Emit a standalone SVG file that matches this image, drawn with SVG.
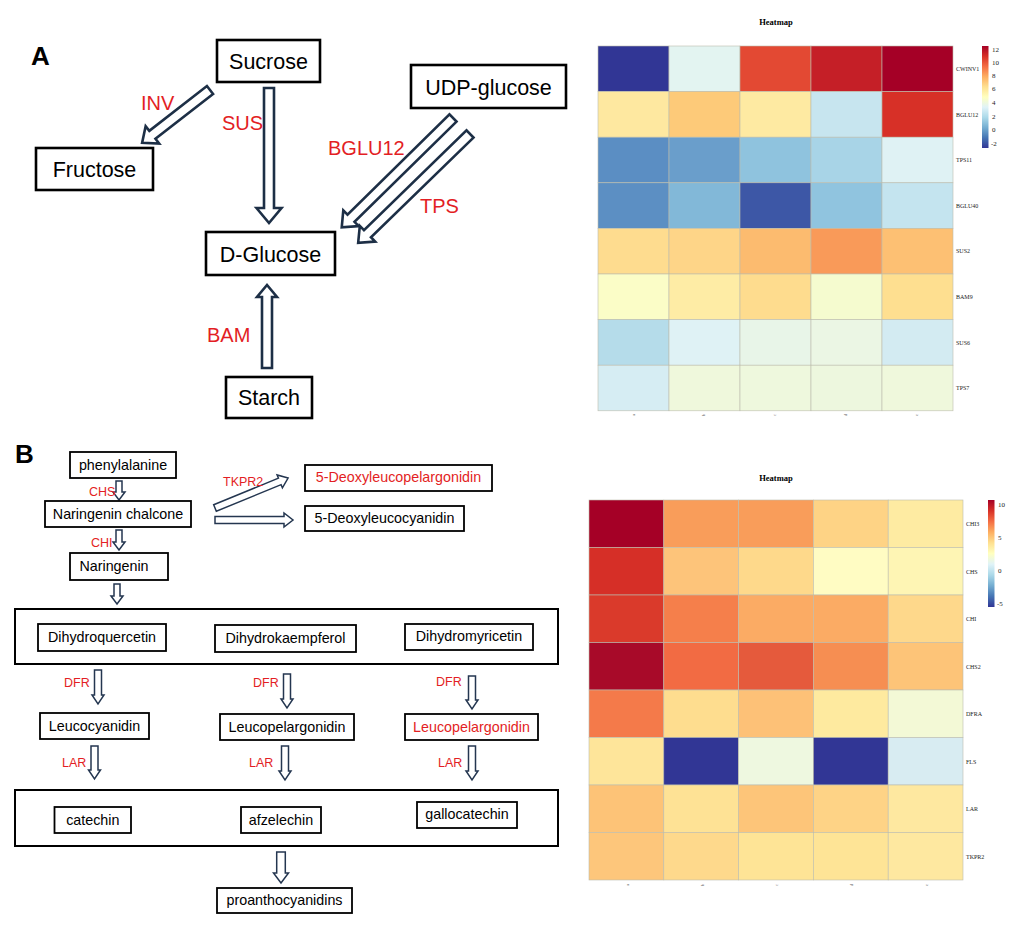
<svg xmlns="http://www.w3.org/2000/svg" width="1024" height="935" viewBox="0 0 1024 935">
<style>
.bg{fill:#ffffff}
.boxA{fill:#ffffff;stroke:#000;stroke-width:2.6}
.boxB{fill:#ffffff;stroke:#000;stroke-width:1.8}
.big{fill:none;stroke:#000;stroke-width:2}
.tA{font-family:"Liberation Sans",Arial,sans-serif;font-size:21.5px;fill:#000;text-anchor:middle}
.tB{font-family:"Liberation Sans",Arial,sans-serif;font-size:14.3px;fill:#000;text-anchor:middle}
.rA{font-family:"Liberation Sans",Arial,sans-serif;font-size:20px;fill:#e31e24}
.rB{font-family:"Liberation Sans",Arial,sans-serif;font-size:12.5px;fill:#e31e24}
.red{fill:#e31e24}
.lab{font-family:"Liberation Sans",Arial,sans-serif;font-size:26px;font-weight:bold;fill:#000}
.aA{fill:#fff;stroke:#1d2f46;stroke-width:2.6;stroke-linejoin:miter}
.aB{fill:#fff;stroke:#243650;stroke-width:1.5;stroke-linejoin:miter}
.hm rect{stroke:#bdbdad;stroke-width:0.6}
.ttl{font-family:"Liberation Serif","Times New Roman",serif;font-size:8.5px;font-weight:bold;fill:#000;text-anchor:middle}
.rl{font-family:"Liberation Serif","Times New Roman",serif;font-size:6px;fill:#222}
.tk{font-family:"Liberation Serif","Times New Roman",serif;font-size:7px;fill:#222}
.cl{font-family:"Liberation Serif","Times New Roman",serif;font-size:4.5px;fill:#666;text-anchor:middle}
</style>
<defs>
<linearGradient id="rdylbu" x1="0" y1="0" x2="0" y2="1">
<stop offset="0" stop-color="#a50026"/>
<stop offset="0.1" stop-color="#d73027"/>
<stop offset="0.2" stop-color="#f46d43"/>
<stop offset="0.3" stop-color="#fdae61"/>
<stop offset="0.4" stop-color="#fee090"/>
<stop offset="0.5" stop-color="#ffffbf"/>
<stop offset="0.6" stop-color="#e0f3f8"/>
<stop offset="0.7" stop-color="#abd9e9"/>
<stop offset="0.8" stop-color="#74add1"/>
<stop offset="0.9" stop-color="#4575b4"/>
<stop offset="1" stop-color="#313695"/>
</linearGradient>
</defs>
<rect class="bg" x="0" y="0" width="1024" height="935"/>

<!-- Panel labels -->
<text class="lab" x="31" y="65">A</text>
<text class="lab" x="15" y="463">B</text>

<!-- Part A connectors -->
<g id="connectors-A">
<path class="aA" transform="translate(210,90) rotate(142.1)" d="M0,-5H73V-11L86,0L73,11V5H0Z"/>
<path class="aA" transform="translate(269,88) rotate(90)" d="M0,-5H120V-12.5L135,0L120,12.5V5H0Z"/>
<path class="aA" transform="translate(453,118) rotate(135.5)" d="M0,-5H143V-11L156,0L143,11V5H0Z"/>
<path class="aA" transform="translate(470,134) rotate(135.8)" d="M0,-5H143V-11L156,0L143,11V5H0Z"/>
<path class="aA" transform="translate(267,368) rotate(-90)" d="M0,-5H71V-10L83,0L71,10V5H0Z"/>
<text class="rA" x="141" y="110">INV</text>
<text class="rA" x="222" y="130">SUS</text>
<text class="rA" x="328" y="155">BGLU12</text>
<text class="rA" x="420" y="213">TPS</text>
<text class="rA" x="207" y="342">BAM</text>
</g>

<!-- Part A nodes -->
<g id="sucrose"><rect class="boxA" x="217" y="40" width="103" height="42"/><text class="tA" x="268.5" y="69">Sucrose</text></g>
<g id="fructose"><rect class="boxA" x="36" y="148" width="117" height="42"/><text class="tA" x="94.5" y="177">Fructose</text></g>
<g id="udp-glucose"><rect class="boxA" x="411" y="65" width="155" height="43"/><text class="tA" x="488.5" y="95">UDP-glucose</text></g>
<g id="d-glucose"><rect class="boxA" x="206" y="232" width="129" height="43"/><text class="tA" x="270.5" y="262">D-Glucose</text></g>
<g id="starch"><rect class="boxA" x="226" y="377" width="86" height="41"/><text class="tA" x="269" y="405">Starch</text></g>

<!-- Part B connectors -->
<g id="connectors-B">
<path class="aB" transform="translate(119,481) rotate(90)" d="M0,-3H11V-6L19,0L11,6V3H0Z"/>
<path class="aB" transform="translate(119,530) rotate(90)" d="M0,-3H12V-6L20,0L12,6V3H0Z"/>
<path class="aB" transform="translate(117,584) rotate(90)" d="M0,-3H12V-6L20,0L12,6V3H0Z"/>
<path class="aB" transform="translate(215,508) rotate(-22.3)" d="M0,-3.5H70V-7L79,0L70,7V3.5H0Z"/>
<path class="aB" transform="translate(215,520)" d="M0,-3.5H69V-7L78,0L69,7V3.5H0Z"/>
<path class="aB" transform="translate(98,670) rotate(90)" d="M0,-3.5H25V-6L34,0L25,6V3.5H0Z"/>
<path class="aB" transform="translate(287,674) rotate(90)" d="M0,-3.5H25V-6L34,0L25,6V3.5H0Z"/>
<path class="aB" transform="translate(472,676) rotate(90)" d="M0,-3.5H24V-6L33,0L24,6V3.5H0Z"/>
<path class="aB" transform="translate(94.5,746) rotate(90)" d="M0,-3.5H24V-6L33,0L24,6V3.5H0Z"/>
<path class="aB" transform="translate(285,746) rotate(90)" d="M0,-3.5H25V-6L34,0L25,6V3.5H0Z"/>
<path class="aB" transform="translate(472,746) rotate(90)" d="M0,-3.5H25V-6L34,0L25,6V3.5H0Z"/>
<path class="aB" transform="translate(281,852) rotate(90)" d="M0,-4.3H21V-7.5L31,0L21,7.5V4.3H0Z"/>
<text class="rB" x="89" y="496">CHS</text>
<text class="rB" x="91" y="547">CHI</text>
<text class="rB" x="223" y="486">TKPR2</text>
<text class="rB" x="64" y="687">DFR</text>
<text class="rB" x="253" y="687">DFR</text>
<text class="rB" x="436" y="686">DFR</text>
<text class="rB" x="62" y="767">LAR</text>
<text class="rB" x="249" y="767">LAR</text>
<text class="rB" x="438" y="767">LAR</text>
</g>

<!-- Part B nodes -->
<g id="phenylalanine"><rect class="boxB" x="70" y="452" width="106" height="26"/><text class="tB" x="123" y="470">phenylalanine</text></g>
<g id="naringenin-chalcone"><rect class="boxB" x="45" y="501" width="146" height="26"/><text class="tB" x="118" y="519">Naringenin chalcone</text></g>
<g id="naringenin"><rect class="boxB" x="70" y="553" width="98" height="27"/><text class="tB" x="114" y="571">Naringenin</text></g>
<g id="deoxyleucopelargonidin"><rect class="boxB" x="305" y="465" width="187" height="26"/><text class="tB red" x="398.5" y="482">5-Deoxyleucopelargonidin</text></g>
<g id="deoxyleucocyanidin"><rect class="boxB" x="305" y="506" width="159" height="25"/><text class="tB" x="384.5" y="523">5-Deoxyleucocyanidin</text></g>

<g id="dihydroflavonols">
<rect class="big" x="15" y="609" width="543" height="55"/>
<g id="dihydroquercetin"><rect class="boxB" x="38" y="624" width="128" height="27"/><text class="tB" x="102" y="642">Dihydroquercetin</text></g>
<g id="dihydrokaempferol"><rect class="boxB" x="215" y="625" width="141" height="27"/><text class="tB" x="285.5" y="643">Dihydrokaempferol</text></g>
<g id="dihydromyricetin"><rect class="boxB" x="405" y="624" width="128" height="26"/><text class="tB" x="469" y="641">Dihydromyricetin</text></g>
</g>

<g id="leucocyanidin"><rect class="boxB" x="40" y="713" width="109" height="26"/><text class="tB" x="94.5" y="731">Leucocyanidin</text></g>
<g id="leucopelargonidin-1"><rect class="boxB" x="220" y="714" width="134" height="26"/><text class="tB" x="287" y="732">Leucopelargonidin</text></g>
<g id="leucopelargonidin-2"><rect class="boxB" x="405" y="714" width="133" height="26"/><text class="tB red" x="471.5" y="732">Leucopelargonidin</text></g>

<g id="flavan-3-ols">
<rect class="big" x="15" y="790" width="543" height="56"/>
<g id="catechin"><rect class="boxB" x="54.5" y="807" width="76.5" height="26"/><text class="tB" x="92.8" y="825">catechin</text></g>
<g id="afzelechin"><rect class="boxB" x="241" y="807" width="80" height="26"/><text class="tB" x="281" y="825">afzelechin</text></g>
<g id="gallocatechin"><rect class="boxB" x="417" y="802" width="100" height="26"/><text class="tB" x="467" y="819">gallocatechin</text></g>
</g>
<g id="proanthocyanidins"><rect class="boxB" x="217" y="888" width="135" height="25"/><text class="tB" x="284.5" y="905">proanthocyanidins</text></g>

<!-- Heatmap A -->
<g id="heatmap-A">
<text class="ttl" x="776" y="25">Heatmap</text>
<g class="hm">
<rect x="598" y="46" width="71" height="45.6" fill="#313695"/><rect x="669" y="46" width="71" height="45.6" fill="#e3f4f1"/><rect x="740" y="46" width="71" height="45.6" fill="#e34933"/><rect x="811" y="46" width="71" height="45.6" fill="#c51f27"/><rect x="882" y="46" width="71" height="45.6" fill="#a50026"/>
<rect x="598" y="91.6" width="71" height="45.6" fill="#fee8a0"/><rect x="669" y="91.6" width="71" height="45.6" fill="#fdca79"/><rect x="740" y="91.6" width="71" height="45.6" fill="#feeaa2"/><rect x="811" y="91.6" width="71" height="45.6" fill="#c7e5ef"/><rect x="882" y="91.6" width="71" height="45.6" fill="#d73027"/>
<rect x="598" y="137.2" width="71" height="45.6" fill="#5b8ec3"/><rect x="669" y="137.2" width="71" height="45.6" fill="#6a9ecb"/><rect x="740" y="137.2" width="71" height="45.6" fill="#8fc3de"/><rect x="811" y="137.2" width="71" height="45.6" fill="#a8d4e7"/><rect x="882" y="137.2" width="71" height="45.6" fill="#dff2f4"/>
<rect x="598" y="182.8" width="71" height="45.6" fill="#5c8fc3"/><rect x="669" y="182.8" width="71" height="45.6" fill="#82b8d8"/><rect x="740" y="182.8" width="71" height="45.6" fill="#3d57a6"/><rect x="811" y="182.8" width="71" height="45.6" fill="#90c4df"/><rect x="882" y="182.8" width="71" height="45.6" fill="#c4e4ef"/>
<rect x="598" y="228.4" width="71" height="45.6" fill="#fedc8f"/><rect x="669" y="228.4" width="71" height="45.6" fill="#fed588"/><rect x="740" y="228.4" width="71" height="45.6" fill="#fcbb6f"/><rect x="811" y="228.4" width="71" height="45.6" fill="#f99a59"/><rect x="882" y="228.4" width="71" height="45.6" fill="#fdc073"/>
<rect x="598" y="274" width="71" height="45.6" fill="#fbfdc7"/><rect x="669" y="274" width="71" height="45.6" fill="#feeca5"/><rect x="740" y="274" width="71" height="45.6" fill="#fedc8e"/><rect x="811" y="274" width="71" height="45.6" fill="#f5fbcf"/><rect x="882" y="274" width="71" height="45.6" fill="#fedf90"/>
<rect x="598" y="319.6" width="71" height="45.6" fill="#b5dcea"/><rect x="669" y="319.6" width="71" height="45.6" fill="#dff2f5"/><rect x="740" y="319.6" width="71" height="45.6" fill="#e8f5e8"/><rect x="811" y="319.6" width="71" height="45.6" fill="#ebf6e4"/><rect x="882" y="319.6" width="71" height="45.6" fill="#d3ebf2"/>
<rect x="598" y="365.2" width="71" height="45.6" fill="#d6edf3"/><rect x="669" y="365.2" width="71" height="45.6" fill="#eff8dc"/><rect x="740" y="365.2" width="71" height="45.6" fill="#eef8dd"/><rect x="811" y="365.2" width="71" height="45.6" fill="#edf7de"/><rect x="882" y="365.2" width="71" height="45.6" fill="#eff8dc"/>
</g>
<text class="rl" x="956" y="71">CWINV1</text>
<text class="rl" x="956" y="116.5">BGLU12</text>
<text class="rl" x="956" y="162">TPS11</text>
<text class="rl" x="956" y="207.5">BGLU40</text>
<text class="rl" x="956" y="253">SUS2</text>
<text class="rl" x="956" y="299">BAM9</text>
<text class="rl" x="956" y="344.5">SUS6</text>
<text class="rl" x="956" y="390">TPS7</text>
<rect x="982" y="46" width="6.5" height="102" fill="url(#rdylbu)"/>
<text class="tk" x="992" y="51.5">12</text>
<text class="tk" x="992" y="64.5">10</text>
<text class="tk" x="992" y="77.5">8</text>
<text class="tk" x="992" y="90.5">6</text>
<text class="tk" x="992" y="104.5">4</text>
<text class="tk" x="992" y="118.5">2</text>
<text class="tk" x="992" y="131.5">0</text>
<text class="tk" x="991" y="145.5">-2</text>
<text class="cl" transform="translate(635,415) rotate(-90)">a</text>
<text class="cl" transform="translate(705,415) rotate(-90)">b</text>
<text class="cl" transform="translate(776,415) rotate(-90)">c</text>
<text class="cl" transform="translate(847,415) rotate(-90)">d</text>
<text class="cl" transform="translate(918,415) rotate(-90)">e</text>
</g>

<!-- Heatmap B -->
<g id="heatmap-B">
<text class="ttl" x="776" y="481">Heatmap</text>
<g class="hm">
<rect x="589" y="500" width="74.8" height="47.5" fill="#a50026"/><rect x="663.8" y="500" width="74.8" height="47.5" fill="#f99d5a"/><rect x="738.6" y="500" width="74.8" height="47.5" fill="#f99d5a"/><rect x="813.4" y="500" width="74.8" height="47.5" fill="#fed385"/><rect x="888.2" y="500" width="74.8" height="47.5" fill="#feeba2"/>
<rect x="589" y="547.5" width="74.8" height="47.5" fill="#d62f27"/><rect x="663.8" y="547.5" width="74.8" height="47.5" fill="#fdc47a"/><rect x="738.6" y="547.5" width="74.8" height="47.5" fill="#fed98b"/><rect x="813.4" y="547.5" width="74.8" height="47.5" fill="#fffcc3"/><rect x="888.2" y="547.5" width="74.8" height="47.5" fill="#fef5b4"/>
<rect x="589" y="595" width="74.8" height="47.5" fill="#da3a2b"/><rect x="663.8" y="595" width="74.8" height="47.5" fill="#f57f4b"/><rect x="738.6" y="595" width="74.8" height="47.5" fill="#fbab64"/><rect x="813.4" y="595" width="74.8" height="47.5" fill="#fbab64"/><rect x="888.2" y="595" width="74.8" height="47.5" fill="#fed88b"/>
<rect x="589" y="642.5" width="74.8" height="47.5" fill="#a80a29"/><rect x="663.8" y="642.5" width="74.8" height="47.5" fill="#f26b43"/><rect x="738.6" y="642.5" width="74.8" height="47.5" fill="#e55a3c"/><rect x="813.4" y="642.5" width="74.8" height="47.5" fill="#f68e52"/><rect x="888.2" y="642.5" width="74.8" height="47.5" fill="#fdc478"/>
<rect x="589" y="690" width="74.8" height="47.5" fill="#f47a4a"/><rect x="663.8" y="690" width="74.8" height="47.5" fill="#fedd8f"/><rect x="738.6" y="690" width="74.8" height="47.5" fill="#fdc177"/><rect x="813.4" y="690" width="74.8" height="47.5" fill="#feea9f"/><rect x="888.2" y="690" width="74.8" height="47.5" fill="#f3f9d6"/>
<rect x="589" y="737.5" width="74.8" height="47.5" fill="#fee59a"/><rect x="663.8" y="737.5" width="74.8" height="47.5" fill="#313695"/><rect x="738.6" y="737.5" width="74.8" height="47.5" fill="#eef8e0"/><rect x="813.4" y="737.5" width="74.8" height="47.5" fill="#313695"/><rect x="888.2" y="737.5" width="74.8" height="47.5" fill="#d8ecf2"/>
<rect x="589" y="785" width="74.8" height="47.5" fill="#fdc377"/><rect x="663.8" y="785" width="74.8" height="47.5" fill="#fee295"/><rect x="738.6" y="785" width="74.8" height="47.5" fill="#fdc579"/><rect x="813.4" y="785" width="74.8" height="47.5" fill="#fed386"/><rect x="888.2" y="785" width="74.8" height="47.5" fill="#fee8a0"/>
<rect x="589" y="832.5" width="74.8" height="47.5" fill="#fdc67b"/><rect x="663.8" y="832.5" width="74.8" height="47.5" fill="#fed98c"/><rect x="738.6" y="832.5" width="74.8" height="47.5" fill="#fee496"/><rect x="813.4" y="832.5" width="74.8" height="47.5" fill="#fee496"/><rect x="888.2" y="832.5" width="74.8" height="47.5" fill="#fee8a0"/>
</g>
<text class="rl" x="966" y="526">CHI3</text>
<text class="rl" x="966" y="573.5">CHS</text>
<text class="rl" x="966" y="621">CHI</text>
<text class="rl" x="966" y="668.5">CHS2</text>
<text class="rl" x="966" y="716">DFRA</text>
<text class="rl" x="966" y="763.5">FLS</text>
<text class="rl" x="966" y="811">LAR</text>
<text class="rl" x="966" y="858.5">TKPR2</text>
<rect x="988" y="500" width="6.5" height="107" fill="url(#rdylbu)"/>
<text class="tk" x="998" y="507">10</text>
<text class="tk" x="998" y="539.5">5</text>
<text class="tk" x="998" y="572.5">0</text>
<text class="tk" x="997" y="605.5">-5</text>
<text class="cl" transform="translate(629,885) rotate(-90)">a</text>
<text class="cl" transform="translate(704,885) rotate(-90)">b</text>
<text class="cl" transform="translate(778,885) rotate(-90)">c</text>
<text class="cl" transform="translate(853,885) rotate(-90)">d</text>
<text class="cl" transform="translate(928,885) rotate(-90)">e</text>
</g>
</svg>
